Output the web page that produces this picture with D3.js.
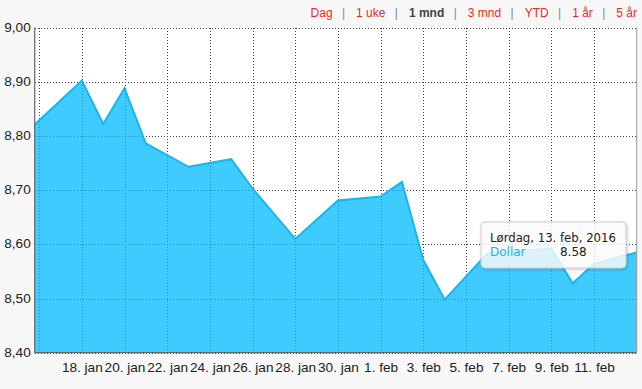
<!DOCTYPE html>
<html lang="no">
<head>
<meta charset="utf-8">
<title>Dollar</title>
<script src="https://d3js.org/d3.v7.min.js"></script>
<style>
  body { margin: 0; background: #f7f7f7; }
  svg text { font-family: "Liberation Sans", Arial, sans-serif; }
  .grid line { stroke: #444; stroke-dasharray: 1,2; shape-rendering: crispEdges; }
  .grid .domain { display: none; }
  .grid text { font-size: 13.6px; fill: #222; }
</style>
</head>
<body>
<script>
// USD/NOK, siste måned
var dates = ["2016-01-15T19:00", "2016-01-18", "2016-01-19", "2016-01-20", "2016-01-21",
  "2016-01-23", "2016-01-25", "2016-01-26", "2016-01-28", "2016-01-30", "2016-02-01",
  "2016-02-02", "2016-02-03", "2016-02-04", "2016-02-06", "2016-02-09", "2016-02-10",
  "2016-02-11", "2016-02-13"];
var values = [8.821, 8.902, 8.822, 8.888, 8.786, 8.743, 8.757, 8.703, 8.610, 8.681, 8.688,
  8.715, 8.571, 8.498, 8.583, 8.592, 8.528, 8.564, 8.585];

var yTicks = [8.4, 8.5, 8.6, 8.7, 8.8, 8.9, 9.0];
var xTickDates = ["2016-01-16", "2016-01-18", "2016-01-20", "2016-01-22", "2016-01-24",
  "2016-01-26", "2016-01-28", "2016-01-30", "2016-02-01", "2016-02-03", "2016-02-05",
  "2016-02-07", "2016-02-09", "2016-02-11"];
var xLabels = ["", "18. jan", "20. jan", "22. jan", "24. jan", "26. jan", "28. jan",
  "30. jan", "1. feb", "3. feb", "5. feb", "7. feb", "9. feb", "11. feb"];

var ranges = ["Dag", "1 uke", "1 mnd", "3 mnd", "YTD", "1 år", "5 år"];
var activeRange = "1 mnd";

var tipTitle = "Lørdag, 13. feb, 2016";
var tipSeries = "Dollar";
var tipValue = "8.58";

function parse(s) { return new Date(s.length > 10 ? s : s + "T00:00"); }

var w = 642, h = 389;
var x0 = 34.7, x1 = 636.7, y0 = 27.5, y1 = 352.7;

var svg = d3.select("body").append("svg")
  .attr("width", w).attr("height", h);

var data = dates.map((d, i) => ({ date: parse(d), value: values[i] }));

var xScale = d3.scaleTime()
  .domain(d3.extent(data, d => d.date))
  .range([x0, x1]);

var yScale = d3.scaleLinear()
  .domain([8.4, 9.0])
  .range([y1, y0]);

// plot background
svg.append("rect")
  .attr("x", x0).attr("y", y0)
  .attr("width", x1 - x0).attr("height", y1 - y0)
  .attr("fill", "#fff");

// grid + labels
var yAxis = svg.append("g")
  .attr("class", "grid")
  .attr("transform", "translate(" + x0 + ",0)")
  .call(d3.axisLeft(yScale)
    .tickValues(yTicks)
    .tickSize(-(x1 - x0))
    .tickPadding(4)
    .tickFormat(d => d3.format(".2f")(d).replace(".", ",")));
yAxis.selectAll("text").attr("dy", "0.26em");

svg.append("g")
  .attr("class", "grid")
  .attr("transform", "translate(0," + y1 + ")")
  .call(d3.axisBottom(xScale)
    .tickValues(xTickDates.map(parse))
    .tickSize(-(y1 - y0))
    .tickPadding(10)
    .tickFormat((d, i) => xLabels[i]));

// area + line
var area = d3.area()
  .x(d => xScale(d.date))
  .y0(y1)
  .y1(d => yScale(d.value));

var line = d3.line()
  .x(d => xScale(d.date))
  .y(d => yScale(d.value));

svg.append("path")
  .datum(data)
  .attr("d", area)
  .attr("fill", "#00b9ff")
  .attr("fill-opacity", 0.75);

svg.append("path")
  .datum(data)
  .attr("d", line)
  .attr("fill", "none")
  .attr("stroke", "#14b6f3")
  .attr("stroke-width", 2)
  .attr("stroke-linejoin", "miter");

// axis lines
svg.append("line")
  .attr("x1", x0).attr("x2", x0).attr("y1", y0).attr("y2", y1)
  .attr("stroke", "#666").attr("stroke-width", 1.2);
svg.append("line")
  .attr("x1", x0).attr("x2", x1).attr("y1", y1).attr("y2", y1)
  .attr("stroke", "#666").attr("stroke-width", 1.2);
svg.append("line")
  .attr("x1", x1).attr("x2", x1).attr("y1", y0).attr("y2", y1)
  .attr("stroke", "#999").attr("stroke-width", 1);

// range selector, laid out from the right edge
var nav = svg.append("g").style("font-size", "12px");
var nx = 637;
ranges.slice().reverse().forEach(function (r, i) {
  var t = nav.append("text")
    .attr("x", nx).attr("y", 17)
    .attr("text-anchor", "end")
    .attr("fill", r === activeRange ? "#444" : "#ee2a22")
    .attr("font-weight", r === activeRange ? "bold" : "normal")
    .text(r);
  nx -= t.node().getComputedTextLength();
  if (i < ranges.length - 1) {
    nav.append("text")
      .attr("x", nx - 12.5).attr("y", 17)
      .attr("text-anchor", "middle")
      .attr("fill", "#888")
      .text("|");
    nx -= 23.5;
  }
});

// tooltip
var defs = svg.append("defs");
var f = defs.append("filter").attr("id", "shadow")
  .attr("x", "-10%").attr("y", "-20%").attr("width", "130%").attr("height", "160%");
f.append("feDropShadow")
  .attr("dx", 1).attr("dy", 1).attr("stdDeviation", 1.5)
  .attr("flood-color", "#000").attr("flood-opacity", 0.25);

var tip = svg.append("g").attr("transform", "translate(481,222)");
tip.append("rect")
  .attr("width", 145).attr("height", 46)
  .attr("rx", 4)
  .attr("fill", "#fff").attr("fill-opacity", 0.8)
  .attr("stroke", "#ccc")
  .attr("filter", "url(#shadow)");
tip.append("text")
  .attr("x", 9).attr("y", 19.5)
  .style("font-family", "DejaVu Sans, sans-serif")
  .style("font-size", "11.7px")
  .attr("fill", "#222")
  .text(tipTitle);
tip.append("text")
  .attr("x", 9).attr("y", 34)
  .style("font-family", "DejaVu Sans, sans-serif")
  .style("font-size", "12px")
  .attr("fill", "#1cb2f0")
  .text(tipSeries);
tip.append("text")
  .attr("x", 105.7).attr("y", 34)
  .attr("text-anchor", "end")
  .style("font-family", "DejaVu Sans, sans-serif")
  .style("font-size", "12px")
  .attr("fill", "#222")
  .text(tipValue);
</script>
</body>
</html>
